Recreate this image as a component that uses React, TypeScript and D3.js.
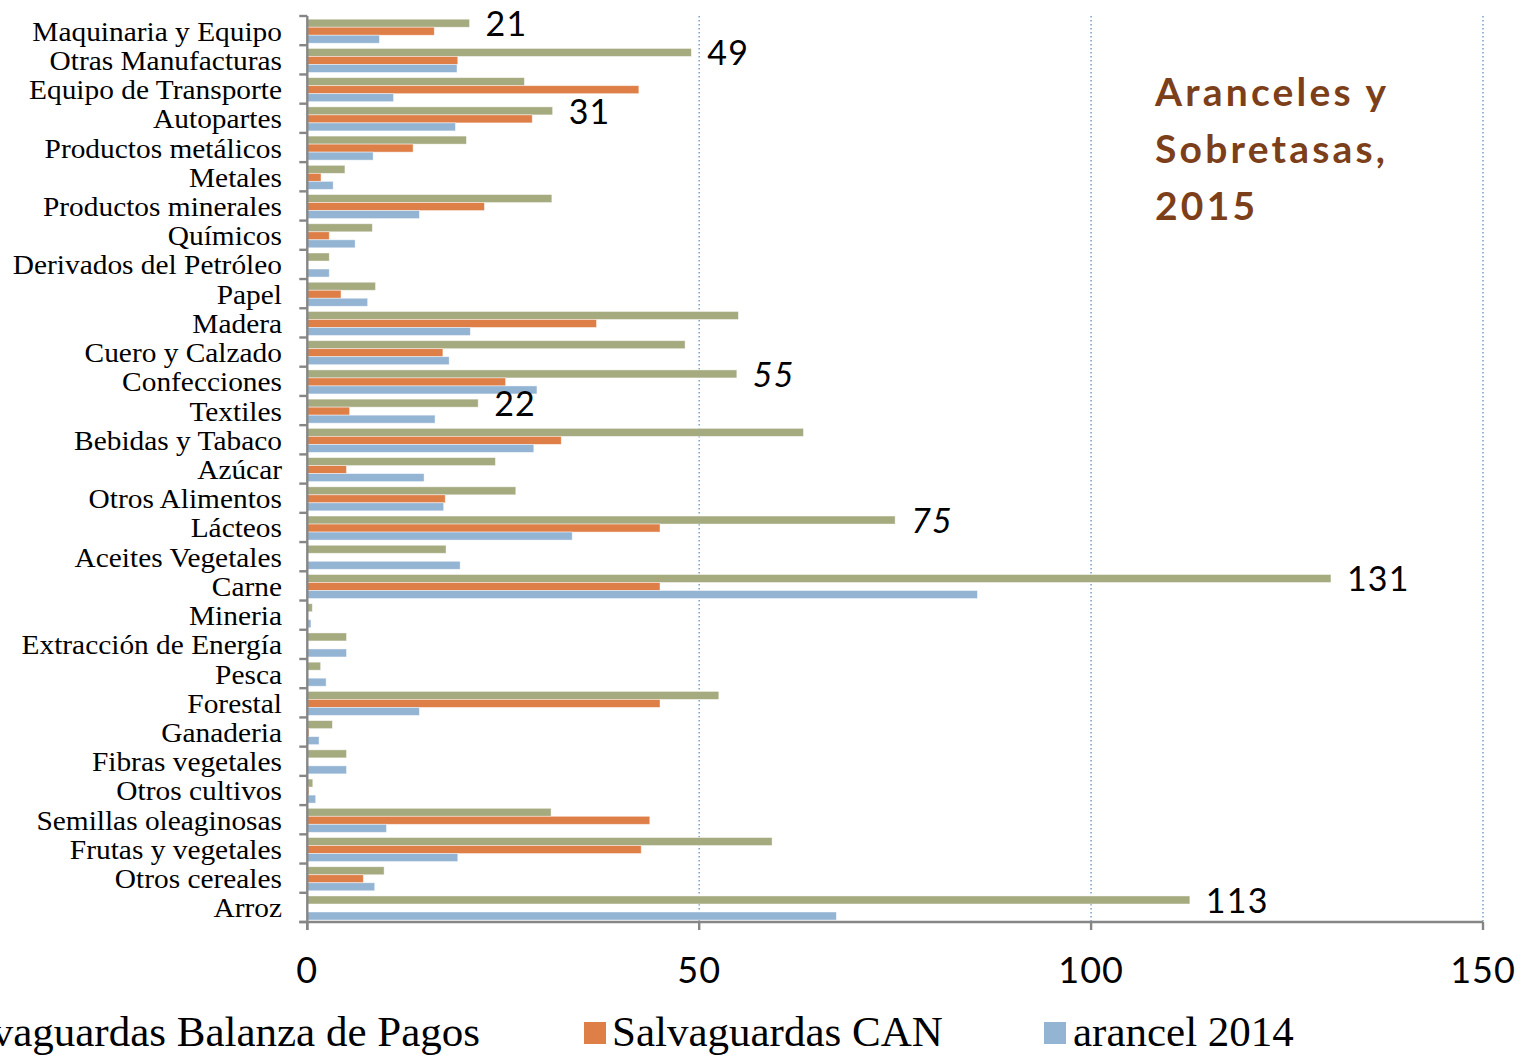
import React from "react";
import * as d3 from "d3";

const categories = [
  "Maquinaria y Equipo", "Otras Manufacturas", "Equipo de Transporte", "Autopartes",
  "Productos metálicos", "Metales", "Productos minerales", "Químicos",
  "Derivados del Petróleo", "Papel", "Madera", "Cuero y Calzado", "Confecciones",
  "Textiles", "Bebidas y Tabaco", "Azúcar", "Otros Alimentos", "Lácteos",
  "Aceites Vegetales", "Carne", "Mineria", "Extracción de Energía", "Pesca",
  "Forestal", "Ganaderia", "Fibras vegetales", "Otros cultivos",
  "Semillas oleaginosas", "Frutas y vegetales", "Otros cereales", "Arroz",
];

const balanzaPagos = [
  20.7, 49.0, 27.7, 31.3, 20.3, 4.8, 31.2, 8.3, 2.8, 8.7, 55.0, 48.2, 54.8,
  21.8, 63.3, 24.0, 26.6, 75.0, 17.7, 130.6, 0.64, 5.0, 1.7, 52.5, 3.2, 5.0,
  0.7, 31.1, 59.3, 9.8, 112.6,
];

const salvaguardasCAN = [
  16.2, 19.2, 42.3, 28.7, 13.5, 1.75, 22.6, 2.8, 0, 4.3, 36.9, 17.3, 25.3,
  5.4, 32.4, 5.0, 17.6, 45.0, 0, 45.0, 0, 0, 0, 45.0, 0.2, 0, 0.2, 43.7,
  42.6, 7.15, 0,
];

const arancel2014 = [
  9.2, 19.1, 11.0, 18.9, 8.4, 3.3, 14.3, 6.1, 2.8, 7.7, 20.8, 18.1, 29.3,
  16.3, 28.9, 14.9, 17.4, 33.8, 19.5, 85.5, 0.47, 5.0, 2.4, 14.3, 1.5, 5.0,
  1.07, 10.1, 19.2, 8.6, 67.5,
];

const seriesNames = ["Salvaguardas Balanza de Pagos", "Salvaguardas CAN", "arancel 2014"];
const seriesColors = ["#A5AA7F", "#DF7F48", "#94B4D4"];
const xTicks = [0, 50, 100, 150];
const labeledCategories = [
  "Maquinaria y Equipo", "Otras Manufacturas", "Autopartes", "Confecciones",
  "Textiles", "Lácteos", "Carne", "Arroz",
];
const italicLabels = ["Confecciones", "Lácteos"];
const titleLines = ["Aranceles y", "Sobretasas,", "2015"];

const W = 1521;
const H = 1056;

export default function App() {
  const x = d3.scaleLinear().domain([0, 150]).range([307.3, 1483]);
  const y = d3.scaleBand<string>().domain(categories).range([16, 922]).padding(0);
  const step = y.step();
  const inner = d3
    .scaleBand<number>()
    .domain([0, 1, 2])
    .range([3.2, step - 2])
    .padding(0);
  const seriesData = [balanzaPagos, salvaguardasCAN, arancel2014];
  const serifFont = "'Liberation Serif', 'Times New Roman', serif";
  const sansFont = "Lato, 'Open Sans', sans-serif";
  const axisColor = "#868686";

  const boundaries = categories.map((c) => y(c) as number).concat([922]);

  return (
    <svg
      width={W}
      height={H}
      style={{ position: "absolute", left: 0, top: 0, background: "#fff" }}
    >
      {/* gridlines */}
      {xTicks.slice(1).map((t) => (
        <line
          key={"g" + t}
          x1={x(t)}
          x2={x(t)}
          y1={16}
          y2={922}
          stroke="#7FA6CF"
          strokeWidth={1.6}
          strokeDasharray="1.6,2.4"
        />
      ))}

      {/* bars */}
      {seriesData.map((vals, si) =>
        vals.map((v, i) =>
          v > 0 ? (
            <rect
              key={si + "-" + i}
              x={x(0)}
              y={(y(categories[i]) as number) + (inner(si) as number)}
              width={x(v) - x(0)}
              height={inner.bandwidth()}
              fill={seriesColors[si]}
              stroke="rgba(255,255,255,0.55)"
              strokeWidth={0.8}
            />
          ) : null
        )
      )}

      {/* left axis */}
      <line x1={x(0)} x2={x(0)} y1={16} y2={930} stroke={axisColor} strokeWidth={2.4} />
      {boundaries.map((b, i) => (
        <line key={"lt" + i} x1={x(0) - 8} x2={x(0)} y1={b} y2={b} stroke={axisColor} strokeWidth={2.4} />
      ))}
      {/* bottom axis */}
      <line x1={x(0) - 8} x2={x(150)} y1={922} y2={922} stroke={axisColor} strokeWidth={2.4} />
      {xTicks.map((t) => (
        <line key={"bt" + t} x1={x(t)} x2={x(t)} y1={922} y2={930} stroke={axisColor} strokeWidth={2.4} />
      ))}

      {/* category labels */}
      <g transform="translate(282,0) scale(1.05,1)">
        {categories.map((c) => (
          <text
            key={"cl" + c}
            x={0}
            y={(y(c) as number) + step / 2 + 10}
            textAnchor="end"
            fontFamily={serifFont}
            fontSize={28}
            fill="#000"
          >
            {c}
          </text>
        ))}
      </g>

      {/* x tick labels */}
      {xTicks.map((t) => (
        <text
          key={"xl" + t}
          x={x(t)}
          y={983}
          textAnchor="middle"
          fontFamily={sansFont}
          fontSize={36}
          letterSpacing={1}
          fill="#000"
        >
          {t}
        </text>
      ))}

      {/* data labels */}
      {labeledCategories.map((c) => {
        const i = categories.indexOf(c);
        const v = balanzaPagos[i];
        const cy = (y(c) as number) + (inner(0) as number) + inner.bandwidth() / 2;
        return (
          <text
            key={"dl" + c}
            x={x(v) + 16}
            y={cy + 13}
            fontFamily={sansFont}
            fontSize={34}
            fontStyle={italicLabels.includes(c) ? "italic" : "normal"}
            letterSpacing={1.2}
            fill="#000"
          >
            {Math.round(v)}
          </text>
        );
      })}

      {/* title */}
      {titleLines.map((t, i) => (
        <text
          key={"tt" + i}
          x={1155}
          y={106 + i * 57}
          fontFamily={sansFont}
          fontWeight={700}
          fontSize={39}
          letterSpacing={3.2}
          fill="#7C3F1A"
        >
          {t}
        </text>
      ))}

      {/* legend */}
      <rect x={-112} y={1022} width={22} height={22} fill={seriesColors[0]} />
      <text x={480} y={1046} textAnchor="end" fontFamily={serifFont} fontSize={43} fill="#000">
        {seriesNames[0]}
      </text>
      <rect x={584} y={1022} width={22} height={22} fill={seriesColors[1]} />
      <text x={612} y={1046} fontFamily={serifFont} fontSize={43} fill="#000">
        {seriesNames[1]}
      </text>
      <rect x={1044} y={1022} width={22} height={22} fill={seriesColors[2]} />
      <text x={1073} y={1046} fontFamily={serifFont} fontSize={43} fill="#000">
        {seriesNames[2]}
      </text>
    </svg>
  );
}
